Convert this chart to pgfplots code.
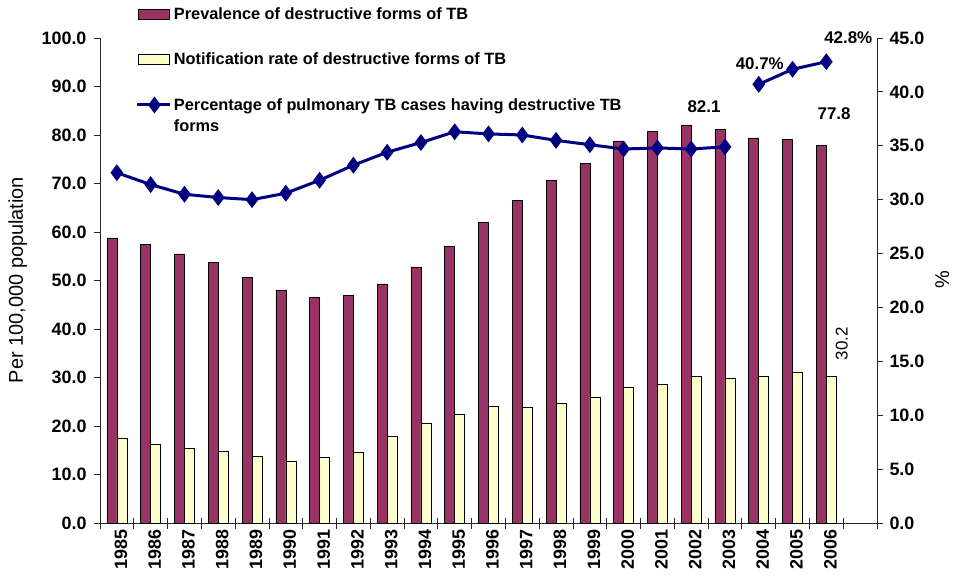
\documentclass[border=0pt]{standalone}
\usepackage{fontspec}
\setmainfont{Liberation Sans}
\usepackage{pgfplots}
\usepackage{pgfplotstable}
\pgfplotsset{compat=1.18}
\definecolor{plum}{HTML}{993366}
\definecolor{lyellow}{HTML}{FFFFCC}
\definecolor{navyb}{HTML}{000080}
\pgfplotsset{
  plumlegend/.style={legend image code/.code={\draw[fill=plum, draw=black, line width=0.6bp] (0bp,-5bp) rectangle (31bp,5bp);}},
  yellowlegend/.style={legend image code/.code={\draw[fill=lyellow, draw=black, line width=0.6bp] (0bp,-5bp) rectangle (31bp,5bp);}},
  navylegend/.style={legend image code/.code={\draw[navyb, line width=3bp, mark=diamond*, mark size=6bp, mark repeat=2, mark phase=2] plot coordinates {(-1bp,0bp) (16bp,0bp) (32bp,0bp)};}},
}

\pgfplotstableread{
x prev notif
0 58.8 17.5
1 57.5 16.3
2 55.5 15.5
3 53.8 14.8
4 50.6 13.8
5 48.0 12.8
6 46.5 13.5
7 47.0 14.6
8 49.3 17.8
9 52.8 20.6
10 57.0 22.5
11 61.9 24.1
12 66.5 23.8
13 70.6 24.7
14 74.1 26.0
15 78.8 28.0
16 80.8 28.6
17 82.1 30.2
18 81.1 29.8
19 79.4 30.2
20 79.1 31.1
21 77.8 30.2
}\bardata

\pgfplotstableread{
x pct
0 32.5
1 31.4
2 30.5
3 30.2
4 30.0
5 30.6
6 31.8
7 33.2
8 34.4
9 35.3
10 36.3
11 36.1
12 36.0
13 35.5
14 35.1
15 34.7
16 34.8
17 34.7
18 34.9
18.5 nan
19 40.7
20 42.1
21 42.8
}\pctdata

\begin{document}
\begin{tikzpicture}
\path[use as bounding box] (-100bp,-60bp) rectangle (856bp,523bp);
\begin{axis}[
  at={(0,0)}, anchor=south west,
  scale only axis, width=777bp, height=485bp,
  clip=false,
  xmin=-0.5, xmax=22.5, ymin=0, ymax=100,
  axis y line*=left, axis x line*=bottom,
  axis line style={-, line width=0.8bp, black!85},
  every tick/.style={line width=0.8bp, black!85},
  xtick={0,...,21},
  xticklabels={1985,1986,1987,1988,1989,1990,1991,1992,1993,1994,1995,1996,1997,1998,1999,2000,2001,2002,2003,2004,2005,2006},
  major x tick style={draw=none},
  minor xtick={-0.5,0.5,...,22.5},
  xtick align=center,
  minor tick length=11bp,
  major tick length=6bp,
  ytick align=outside,
  x tick label style={rotate=90, anchor=east, yshift=-4bp, font=\fontsize{18}{20}\selectfont\bfseries},
  ytick={0,10,...,100},
  /pgf/number format/assume math mode=true,
  y tick label style={xshift=-4bp, font=\fontsize{18}{20}\selectfont\bfseries, /pgf/number format/.cd, fixed, fixed zerofill, precision=1},
  ylabel={Per 100,000 population},
  ylabel style={at={(axis description cs:-0.106,0.501)}, anchor=center, font=\fontsize{20}{22}\selectfont},
  legend style={at={(axis description cs:0.046,1.067)}, anchor=north west, draw=none, fill=none,
    font=\fontsize{16.4}{22}\selectfont\bfseries, cells={anchor=west}, row sep=28bp, inner sep=0pt},
]
\addplot[ybar, bar width=0.296, bar shift=-0.148, fill=plum, draw=black, line width=0.6bp, plumlegend]
  table[x=x, y=prev]{\bardata};
\addlegendentry{Prevalence of destructive forms of TB}
\addplot[ybar, bar width=0.296, bar shift=0.148, fill=lyellow, draw=black, line width=0.6bp, yellowlegend]
  table[x=x, y=notif]{\bardata};
\addlegendentry{Notification rate of destructive forms of TB}
\addlegendimage{navylegend}
\addlegendentry{\rlap{\raisebox{-21bp}[0pt][0pt]{forms}}Percentage of pulmonary TB cases having destructive TB}
\node[font=\fontsize{17}{19}\selectfont\bfseries] at (axis cs:17.38,85.8) {82.1};
\node[font=\fontsize{17}{19}\selectfont\bfseries] at (axis cs:21.23,84.3) {77.8};
\node[font=\fontsize{17}{19}\selectfont\bfseries] at (axis cs:19.03,94.8) {40.7\%};
\node[font=\fontsize{17}{19}\selectfont\bfseries] at (axis cs:21.65,100.1) {42.8\%};
\node[rotate=90, font=\fontsize{17}{19}\selectfont] at (axis cs:21.46,37.0) {30.2};
\end{axis}
\begin{axis}[
  at={(0,0)}, anchor=south west,
  scale only axis, width=777bp, height=485bp,
  xmin=-0.5, xmax=22.5, ymin=0, ymax=45,
  axis y line*=right, axis x line=none,
  axis line style={-, line width=0.8bp, black!85},
  every tick/.style={line width=0.8bp, black!85},
  ytick align=outside, major tick length=6bp,
  ytick={0,5,...,45},
  /pgf/number format/assume math mode=true,
  y tick label style={xshift=3bp, font=\fontsize{18}{20}\selectfont\bfseries, /pgf/number format/.cd, fixed, fixed zerofill, precision=1},
  ylabel={\%},
  ylabel style={at={(axis description cs:1.084,0.501)}, anchor=center, font=\fontsize{20}{22}\selectfont},
  unbounded coords=jump,
]
\addplot[navyb, line width=3bp, mark=diamond*, mark size=6bp] table[x=x, y=pct]{\pctdata};
\end{axis}
\end{tikzpicture}
\end{document}
